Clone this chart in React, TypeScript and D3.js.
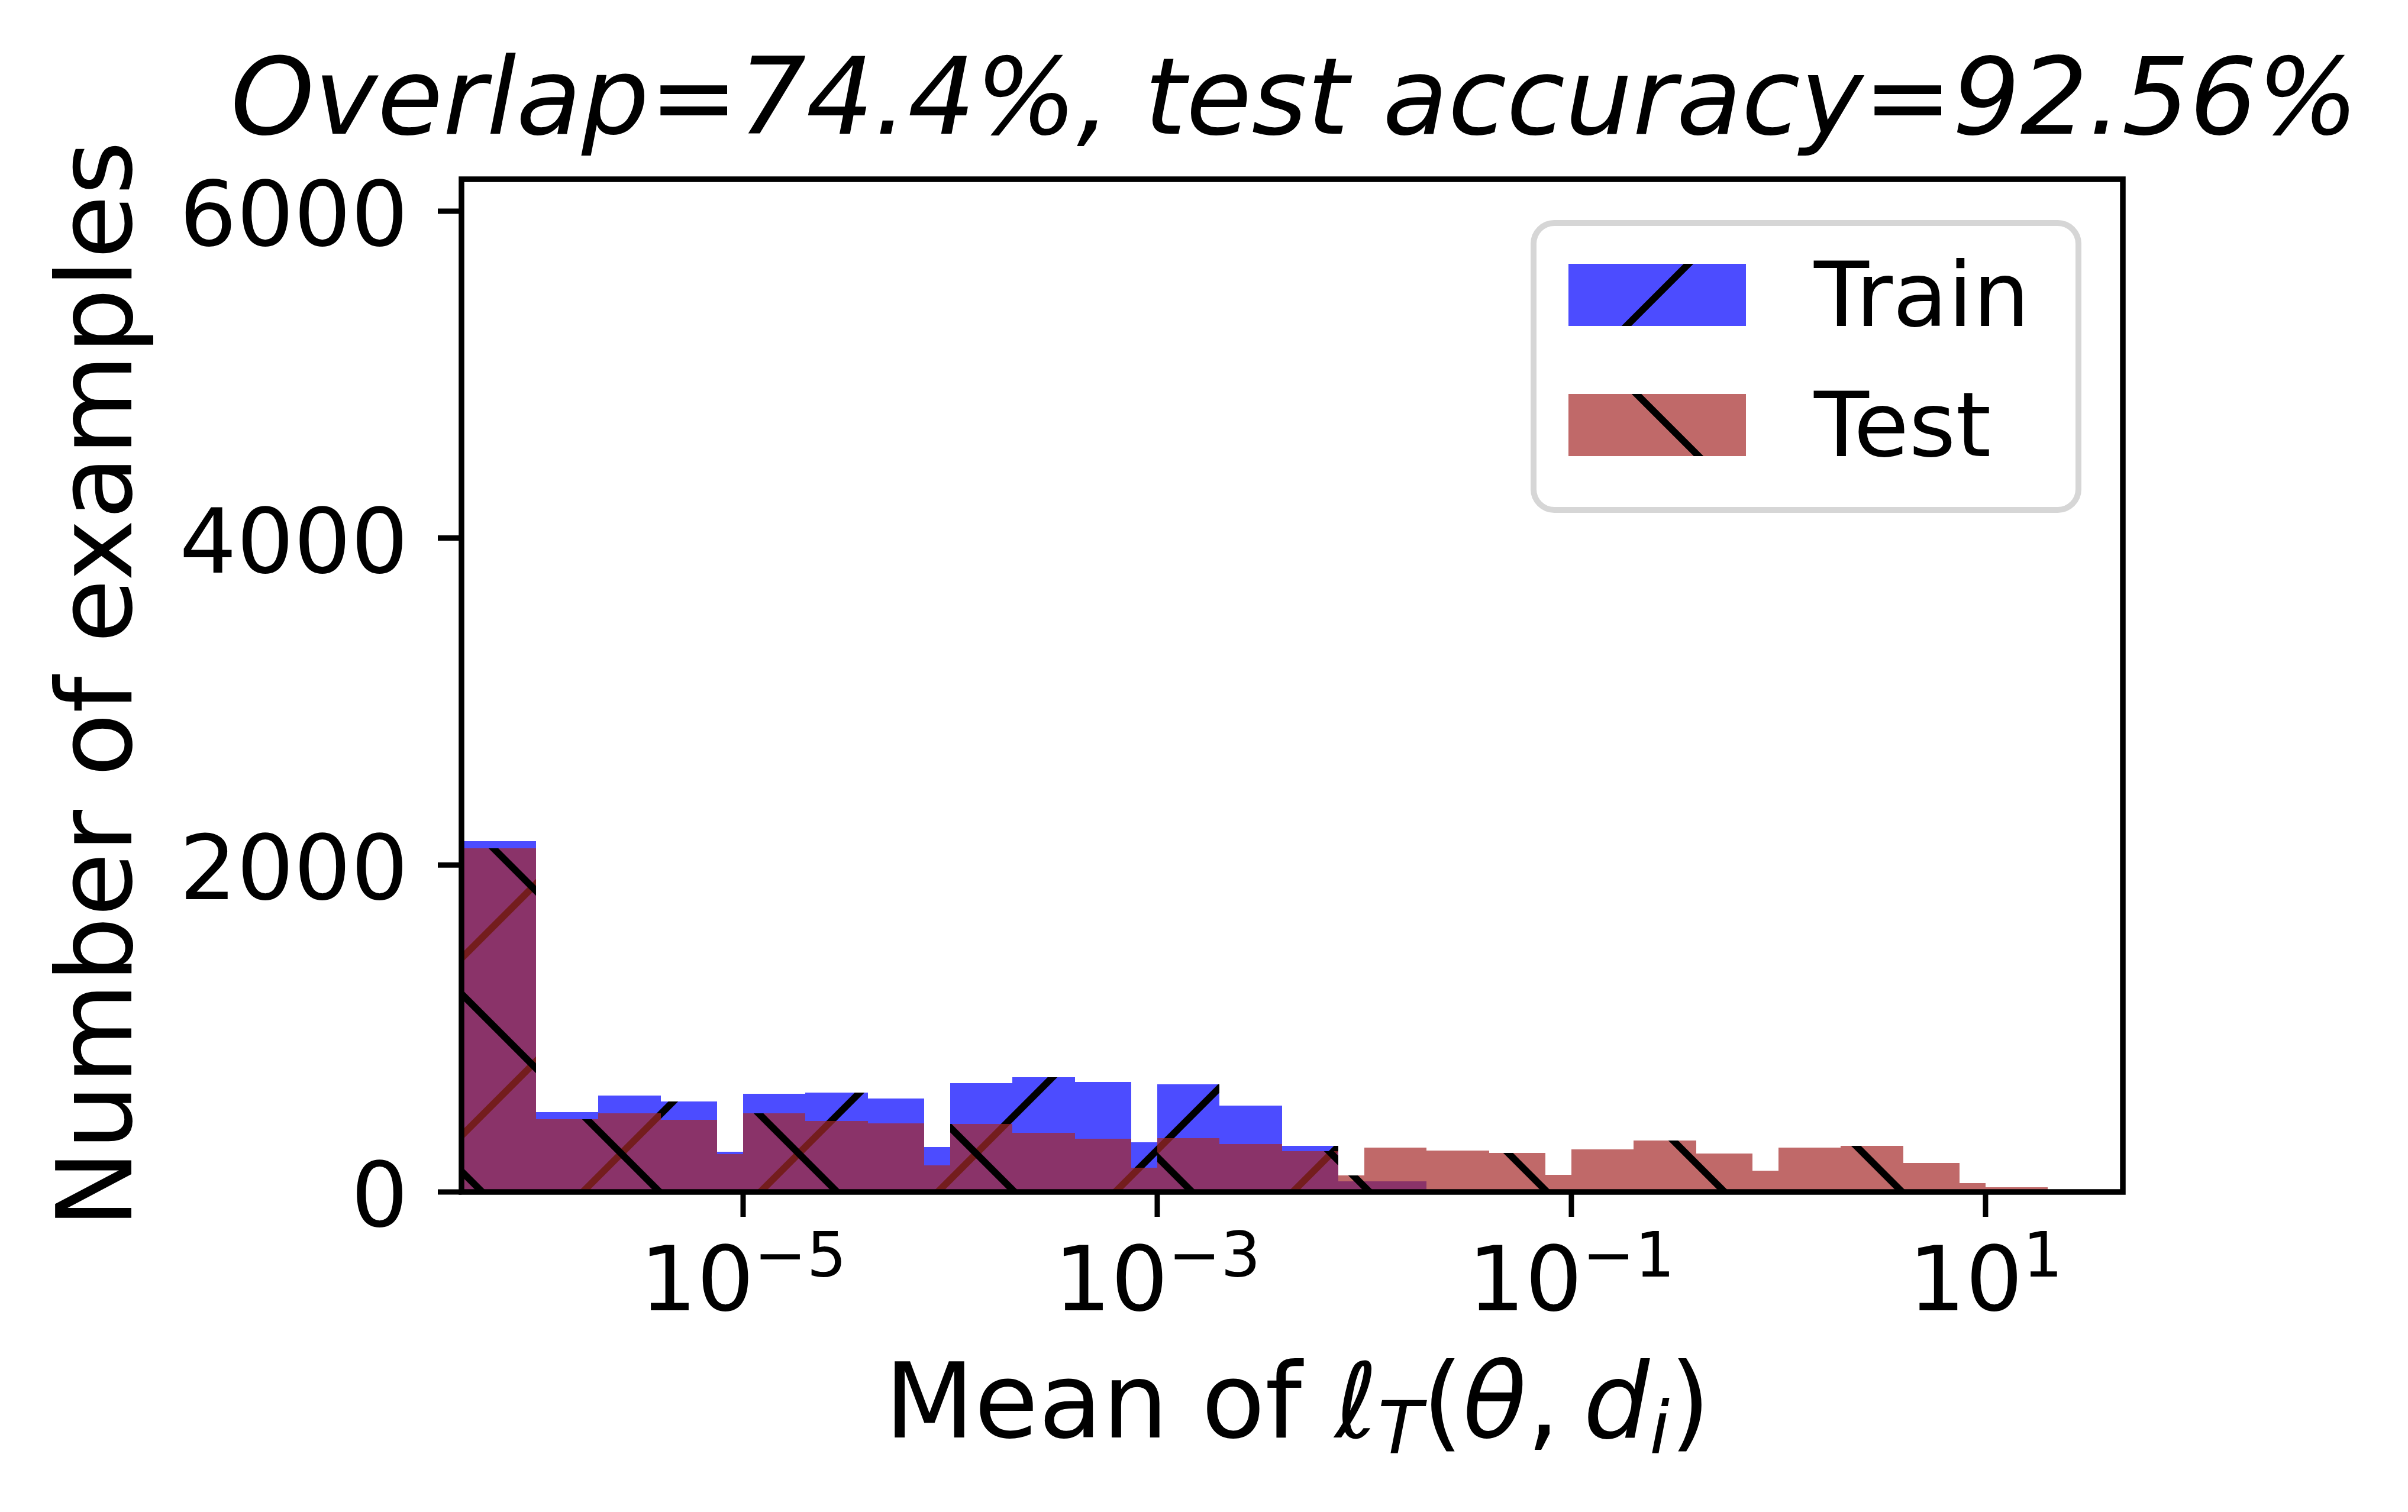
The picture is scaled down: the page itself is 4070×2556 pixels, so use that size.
import React from "react";
import * as d3 from "d3";

// histogram bin edges (loss values), shared by both series
const binEdges = [
  1e-7, 1e-6, 2e-6, 4e-6, 7.5e-6,
  1e-5, 2e-5, 4e-5, 7.5e-5,
  1e-4, 2e-4, 4e-4, 7.5e-4,
  1e-3, 2e-3, 4e-3, 7.5e-3,
  1e-2, 2e-2, 4e-2, 7.5e-2,
  1e-1, 2e-1, 4e-1, 7.5e-1,
  1, 2, 4, 7.5,
  10, 20,
];

const trainCounts = [
  2146, 489, 590, 554, 246,
  601, 608, 572, 275,
  666, 702, 673, 304,
  659, 528, 282, 65,
  65, 0, 0, 0,
  0, 0, 0, 0,
  0, 0, 0, 0,
  0,
];

const testCounts = [
  2103, 445, 481, 442, 232,
  481, 434, 420, 163,
  416, 362, 326, 148,
  329, 293, 250, 101,
  271, 253, 239, 105,
  261, 315, 235, 130,
  271, 282, 177, 54,
  29,
];

const yTicks = [0, 2000, 4000, 6000];
const xTickExps = [-5, -3, -1, 1];

const W = 4070;
const H = 2556;
const left = 780;
const right = 3588;
const top = 303;
const bottom = 2015;

const FONT = "DejaVu Sans";
const HATCH = 300;

const x = d3.scaleLog().domain([10 ** -6.36, 10 ** 1.663]).range([left, right]);
const y = d3.scaleLinear().domain([0, 6195]).range([bottom, top]);

const trainColor = "blue";
const testColor = "brown";

const Bars = ({ counts, color, hatch }: { counts: number[]; color: string; hatch: string }) => (
  <g clipPath="url(#plotArea)">
    {counts.map((c, i) => {
      if (c <= 0) return null;
      const x0 = x(binEdges[i]);
      const x1 = x(binEdges[i + 1]);
      const props = {
        x: x0,
        y: y(c),
        width: x1 - x0,
        height: y(0) - y(c),
        shapeRendering: "crispEdges" as const,
      };
      return (
        <g key={i}>
          <rect {...props} fill={color} fillOpacity={0.7} />
          <rect {...props} fill={`url(#${hatch})`} />
        </g>
      );
    })}
  </g>
);

const App = () => {
  const legend = [
    { label: "Train", color: trainColor, hatch: "hatchF", y: 446 },
    { label: "Test", color: testColor, hatch: "hatchB", y: 666 },
  ];

  return (
    <svg
      width={W}
      height={H}
      style={{ position: "absolute", left: 0, top: 0, background: "#fff" }}
      fontFamily={FONT}
    >
      <defs>
        <clipPath id="plotArea">
          <rect x={left} y={top} width={right - left} height={bottom - top} />
        </clipPath>
        {/* '/' hatch: lines with x + y = const */}
        <pattern id="hatchF" patternUnits="userSpaceOnUse" width={HATCH} height={HATCH}>
          <path
            d={`M0,${HATCH} L${HATCH},0 M-150,150 L150,-150 M150,450 L450,150`}
            stroke="#000"
            strokeWidth={11.7}
          />
        </pattern>
        {/* '\' hatch: lines with x - y = const */}
        <pattern id="hatchB" patternUnits="userSpaceOnUse" width={HATCH} height={HATCH}>
          <path
            d={`M0,0 L${HATCH},${HATCH} M-150,150 L150,450 M150,-150 L450,150`}
            stroke="#000"
            strokeWidth={11.7}
          />
        </pattern>
      </defs>

      <rect x={0} y={0} width={W} height={H} fill="#fff" />

      <Bars counts={trainCounts} color={trainColor} hatch="hatchF" />
      <Bars counts={testCounts} color={testColor} hatch="hatchB" />

      {/* y axis ticks */}
      {yTicks.map((t) => (
        <g key={t}>
          <line x1={left - 40} x2={left} y1={y(t)} y2={y(t)} stroke="#000" strokeWidth={9} />
          <text x={690} y={y(t) + 58} fontSize={152} textAnchor="end">
            {t}
          </text>
        </g>
      ))}

      {/* x axis ticks */}
      {xTickExps.map((e) => {
        const px = x(10 ** e);
        return (
          <g key={e}>
            <line x1={px} x2={px} y1={bottom} y2={bottom + 42} stroke="#000" strokeWidth={9} />
            <text x={px} y={2215} fontSize={152} textAnchor="middle">
              10
              <tspan fontSize={106} dy={-57}>
                {e < 0 ? `\u2212${-e}` : `${e}`}
              </tspan>
            </text>
          </g>
        );
      })}

      {/* spines */}
      <rect
        x={left}
        y={top}
        width={right - left}
        height={bottom - top}
        fill="none"
        stroke="#000"
        strokeWidth={9.5}
      />

      {/* legend */}
      <rect
        x={2592}
        y={377}
        width={921}
        height={485}
        rx={35}
        ry={35}
        fill="#fff"
        fillOpacity={0.8}
        stroke="#d6d6d6"
        strokeWidth={10}
      />
      {legend.map((d) => (
        <g key={d.label}>
          <rect x={2651} y={d.y} width={300} height={105} fill={d.color} fillOpacity={0.7} shapeRendering="crispEdges" />
          <rect x={2651} y={d.y} width={300} height={105} fill={`url(#${d.hatch})`} />
          <text x={3066} y={d.y + 105} fontSize={152}>
            {d.label}
          </text>
        </g>
      ))}

      {/* title */}
      <text x={2188} y={226} fontSize={180} fontStyle="italic" textAnchor="middle">
        Overlap=74.4%, test accuracy=92.56%
      </text>

      {/* x label */}
      <text x={1495} y={2430} fontSize={176}>
        Mean of{" "}
        <tspan fontStyle="italic">ℓ</tspan>
        <tspan fontStyle="italic" fontSize={123} dy={27}>
          T
        </tspan>
        <tspan dy={-27}>(</tspan>
        <tspan fontStyle="italic">θ</tspan>
        <tspan>,</tspan>
        <tspan fontStyle="italic" dx={40}>
          d
        </tspan>
        <tspan fontStyle="italic" fontSize={123} dy={27}>
          i
        </tspan>
        <tspan dy={-27}>)</tspan>
      </text>

      {/* y label */}
      <text
        transform="translate(222,1157) rotate(-90)"
        fontSize={176}
        textAnchor="middle"
      >
        Number of examples
      </text>
    </svg>
  );
};

export default App;
